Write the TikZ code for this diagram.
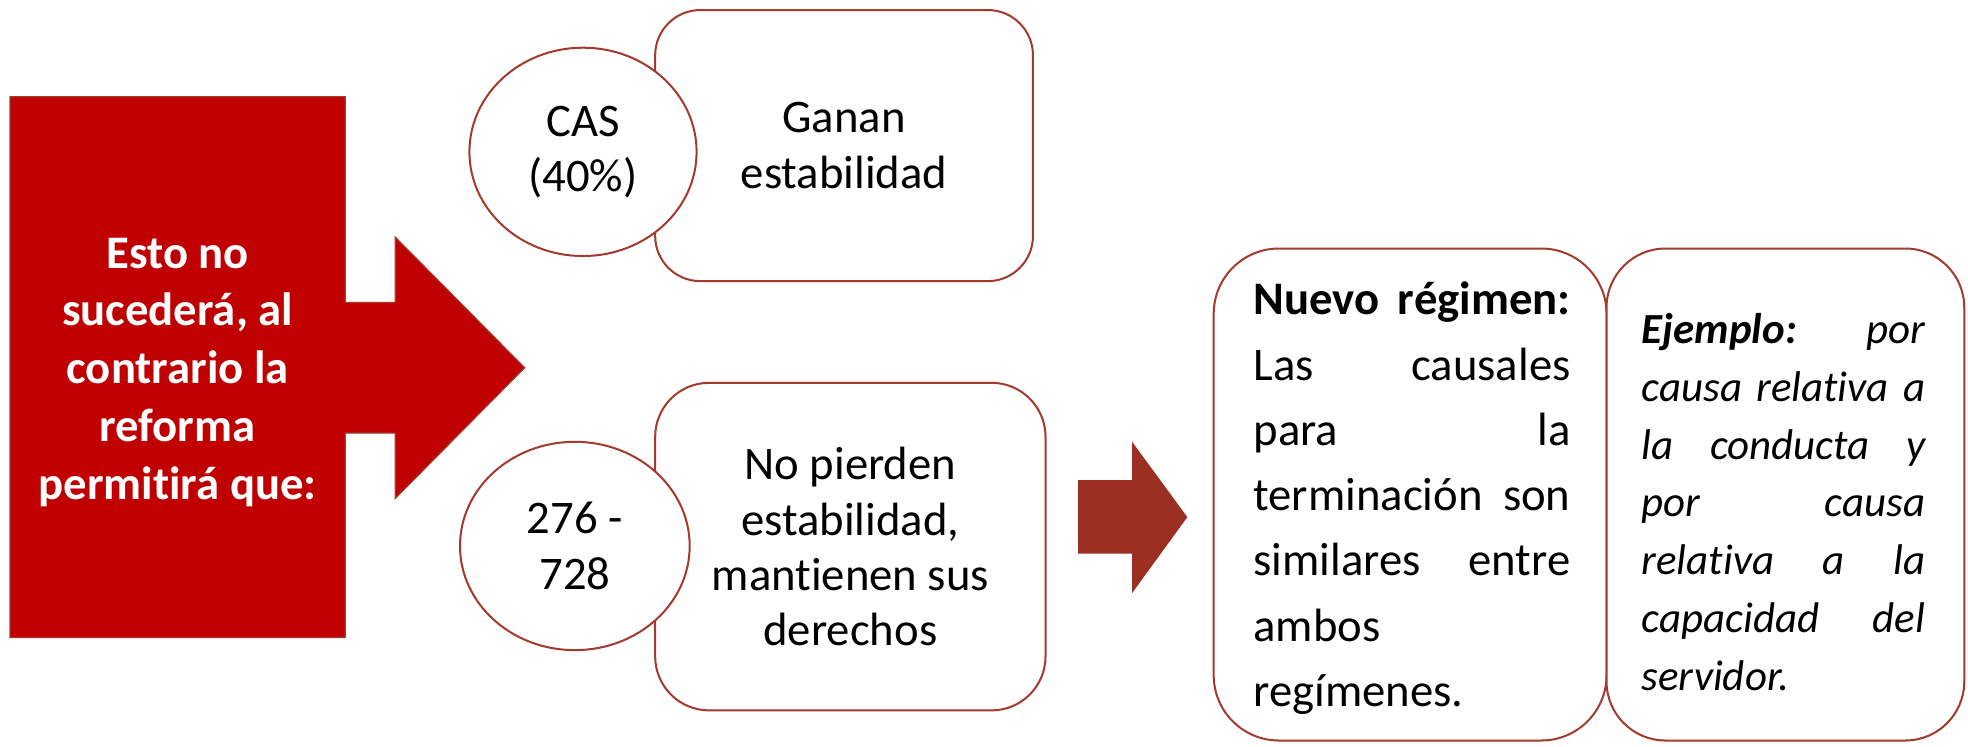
\documentclass[tikz,border=0pt]{standalone}
\usepackage{fontspec}
\setmainfont{Carlito}[Ligatures={TeX,NoCommon}]
\usetikzlibrary{shapes.geometric}
\definecolor{rojo}{HTML}{C00000}
\definecolor{granate}{HTML}{9A2F22}
\definecolor{borde}{HTML}{A23A2E}
\setlength{\parindent}{0pt}
\newcommand{\jl}[1]{\makebox[\linewidth][s]{\spaceskip=0pt\xspaceskip=0pt #1}\\}
\begin{document}
\begin{tikzpicture}[x=0.5pt,y=-0.5pt,
    texto/.style={font=\fontsize{18.6}{22}\selectfont, align=center, inner sep=0pt},
    caja/.style={texto, draw=borde, line width=0.8pt, fill=white, rounded corners=#1},
    ovalo/.style={texto, draw=borde, line width=0.8pt, fill=white, ellipse}]
    \useasboundingbox (0,0) rectangle (1568,594.4);
    \draw[fill=rojo, draw=borde, line width=0.5pt] (8,77) -- (275,77) -- (275,241) -- (315,241) -- (315,189) -- (418,293)
        -- (315,397) -- (315,345) -- (275,345) -- (275,508) -- (8,508) -- cycle;
    \node[texto, text=white, font=\fontsize{18.6}{23}\selectfont\bfseries] (esto) at (141.5,296.5)
        {Esto no\\sucederá, al\\contrario la\\reforma\\permitirá que:};
    \node[caja=18pt, minimum width=150.5pt, minimum height=108pt] (ganan) at (672.5,116) {Ganan\\estabilidad};
    \node[ovalo, minimum width=90.5pt, minimum height=83pt] (cas) at (464.5,121) {CAS\\(40\%)};
    \node[caja=21.5pt, minimum width=155.5pt, minimum height=130.5pt] (nopierden) at (677.5,435.5)
        {No pierden\\estabilidad,\\mantienen sus\\derechos};
    \node[ovalo, minimum width=91.5pt, minimum height=83pt] (num) at (458,435) {276 -\\728};
    \fill[granate] (859,382.5) -- (902,382.5) -- (902,352) -- (946,412) -- (902,472.5) -- (902,441) -- (859,441) -- cycle;
    \node[caja=26pt, minimum width=156.5pt, minimum height=196pt] (nuevo) at (1123.5,394) {};
    \node[texto, text width=126.3pt, align=left, font=\fontsize{18.6}{26}\selectfont] (nuevotxt) at (1125,397)
        {\jl{\textbf{Nuevo régimen:}}\jl{Las causales}\jl{para la}\jl{terminación son}\jl{similares entre}ambos\\regímenes.};
    \node[caja=23.5pt, minimum width=142.5pt, minimum height=196pt] (ejemplo) at (1422.5,394) {};
    \node[texto, text width=113pt, align=left, font=\fontsize{17.1}{23}\selectfont\itshape] (ejemplotxt) at (1421,400)
        {\jl{\textbf{Ejemplo:} por}\jl{causa relativa a}\jl{la conducta y}\jl{por causa}\jl{relativa a la}\jl{capacidad del}servidor.};
\end{tikzpicture}
\end{document}
